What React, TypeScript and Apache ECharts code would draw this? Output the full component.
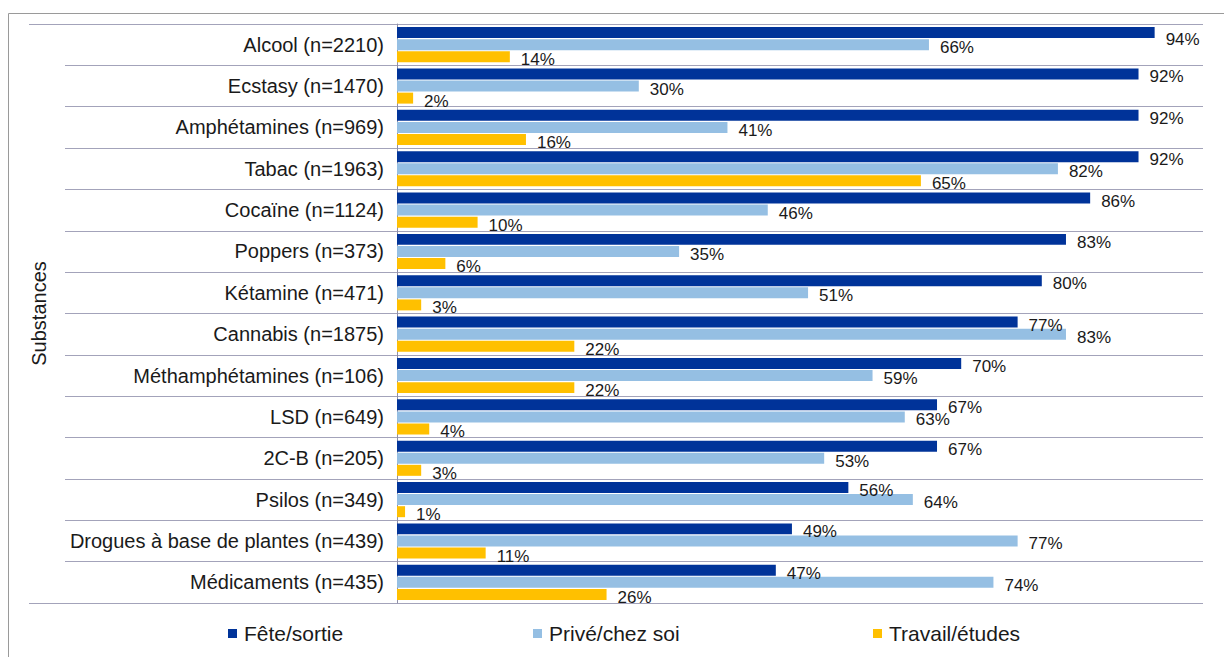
import React, { useEffect, useRef } from "react";
import * as echarts from "echarts";

const categories = [
  "Alcool (n=2210)",
  "Ecstasy (n=1470)",
  "Amphétamines (n=969)",
  "Tabac (n=1963)",
  "Cocaïne (n=1124)",
  "Poppers (n=373)",
  "Kétamine (n=471)",
  "Cannabis (n=1875)",
  "Méthamphétamines (n=106)",
  "LSD (n=649)",
  "2C-B (n=205)",
  "Psilos (n=349)",
  "Drogues à base de plantes (n=439)",
  "Médicaments (n=435)",
];
const seriesNames = ["Fête/sortie", "Privé/chez soi", "Travail/études"];
const fete = [94, 92, 92, 92, 86, 83, 80, 77, 70, 67, 67, 56, 49, 47];
const prive = [66, 30, 41, 82, 46, 35, 51, 83, 59, 63, 53, 64, 77, 74];
const travail = [14, 2, 16, 65, 10, 6, 3, 22, 22, 4, 3, 1, 11, 26];
const axisTitle = "Substances";

const FONT = "'Liberation Sans', Arial, sans-serif";
const colors = ["#003399", "#95BFE3", "#FFC000"];
const lineColor = "#a3a3ba";

export default function App() {
  const ref = useRef<HTMLDivElement>(null);
  useEffect(() => {
    if (!ref.current) return;
    const chart = echarts.init(ref.current, null, { renderer: "svg" });
    const label = {
      show: true,
      position: "right",
      distance: 11,
      offset: [0, 3],
      formatter: "{c}%",
      color: "#1a1a1a",
      fontSize: 17,
      fontFamily: FONT,
    };
    const mk = (name: string, vals: number[], color: string, idx: number) => ({
      name,
      type: "bar",
      data:
        idx === 0
          ? vals.map((v, i) => (i === 0 ? { value: v, label: { offset: [0, 7] } } : v))
          : vals,
      itemStyle: { color },
      barGap: "10%",
      barCategoryGap: "15%",
      label,
    });
    chart.setOption({
      animation: false,
      textStyle: { fontFamily: FONT },
      grid: { left: 397, right: 21, top: 24, bottom: 54, containLabel: false },
      xAxis: {
        type: "value",
        min: 0,
        max: 100,
        show: false,
      },
      yAxis: {
        type: "category",
        inverse: true,
        data: categories,
        name: axisTitle,
        nameLocation: "middle",
        nameRotate: 90,
        nameGap: 348,
        nameTextStyle: { fontSize: 20, color: "#1a1a1a", fontFamily: FONT },
        axisLine: { show: true, lineStyle: { color: "#8f8fa8", width: 1 } },
        axisTick: { show: true, length: 332, interval: 0, lineStyle: { color: lineColor, width: 1 } },
        splitLine: { show: true, interval: 0, lineStyle: { color: lineColor, width: 1 } },
        axisLabel: { fontSize: 20, color: "#1a1a1a", margin: 13, fontFamily: FONT, interval: 0 },
      },
      legend: seriesNames.map((n, i) => ({
        data: [n],
        left: [223, 528, 868][i],
        top: 618,
        itemWidth: 9,
        itemHeight: 9,
        icon: "rect",
        textStyle: { fontSize: 21, color: "#1a1a1a", fontFamily: FONT, padding: [0, 0, 0, 2] },
      })),
      graphic: [
        {
          type: "rect",
          shape: { x: 8.5, y: 13.5, width: 1240, height: 680 },
          style: { fill: "none", stroke: "#9a9a9a", lineWidth: 1 },
          silent: true,
          z: -1,
        },
        {
          type: "line",
          shape: { x1: 29, y1: 24.5, x2: 70, y2: 24.5 },
          style: { stroke: lineColor, lineWidth: 1 },
        },
        {
          type: "line",
          shape: { x1: 29, y1: 603.5, x2: 70, y2: 603.5 },
          style: { stroke: lineColor, lineWidth: 1 },
        },
      ],
      series: [
        mk(seriesNames[0], fete, colors[0], 0),
        mk(seriesNames[1], prive, colors[1], 1),
        mk(seriesNames[2], travail, colors[2], 2),
      ],
    });
    return () => chart.dispose();
  }, []);
  return (
    <div
      ref={ref}
      style={{ position: "absolute", left: 0, top: 0, width: 1224, height: 657 }}
    />
  );
}
